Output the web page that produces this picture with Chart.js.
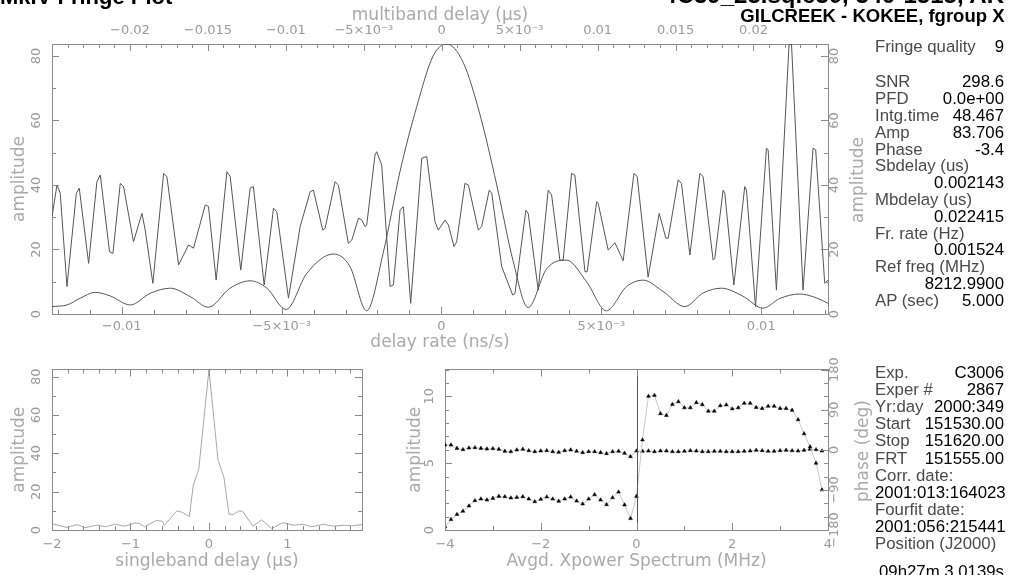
<!DOCTYPE html>
<html><head><meta charset="utf-8">
<script src="https://cdn.jsdelivr.net/npm/chart.js@4.4.1/dist/chart.umd.min.js"></script>
<style>
html,body{margin:0;padding:0;background:#fff;}
#wrap{position:relative;width:1025px;height:575px;overflow:hidden;background:#fff;}
canvas{position:absolute;}
.h{position:absolute;white-space:nowrap;font-family:"Liberation Sans",Arial,sans-serif;font-weight:bold;color:#000;}
.rot{position:absolute;white-space:nowrap;font-family:"DejaVu Sans",sans-serif;font-size:17px;line-height:20px;color:#aaa;transform:translate(-50%,-50%) rotate(-90deg);}
.row{position:absolute;left:875px;width:129px;height:17px;font-family:"Liberation Sans",Arial,sans-serif;font-size:16.8px;line-height:17px;display:flex;justify-content:space-between;white-space:nowrap;}
.row .l{color:#4a4a4a}.row .v{color:#000}
</style></head>
<body><div id="wrap">
<canvas id="c1" width="880" height="355" style="left:0;top:0"></canvas>
<canvas id="c2" width="420" height="220" style="left:0;top:355px"></canvas>
<canvas id="c3" width="500" height="220" style="left:380px;top:355px"></canvas>
<div class="h" style="left:0;top:-13.6px;font-size:22px;line-height:22px">MkIV Fringe Plot</div>
<div class="h" style="right:21px;top:-17.4px;font-size:24px;line-height:24px">4C39_25.sqic30, 349-1515, AK</div>
<div class="h" style="right:20.5px;top:7px;font-size:18.5px;line-height:18.5px">GILCREEK - KOKEE, fgroup X</div>
<div class="rot" style="left:857px;top:180px">amplitude</div>
<div class="rot" style="left:862px;top:451px">phase (deg)</div>
<div id="panel"></div>
</div>
<script>
// ---------------- data ----------------
// multiband delay function (top axis, µs) and amplitude
const mbdDelay = [-0.02500,-0.02468,-0.02447,-0.02404,-0.02344,-0.02325,-0.02265,-0.02212,-0.02190,-0.02131,-0.02109,-0.02062,-0.02041,-0.01977,-0.01923,-0.01902,-0.01853,-0.01784,-0.01763,-0.01688,-0.01624,-0.01592,-0.01517,-0.01496,-0.01447,-0.01378,-0.01357,-0.01289,-0.01229,-0.01208,-0.01139,-0.01079,-0.01058,-0.00983,-0.00908,-0.00844,-0.00823,-0.00763,-0.00748,-0.00684,-0.00663,-0.00599,-0.00577,-0.00534,-0.00513,-0.00492,-0.00481,-0.00428,-0.00417,-0.00385,-0.00331,-0.00310,-0.00267,-0.00246,-0.00199,-0.00128,-0.00096,-0.00043,-0.00022,0.00021,0.00043,0.00079,0.00096,0.00149,0.00171,0.00235,0.00256,0.00305,0.00321,0.00385,0.00455,0.00470,0.00540,0.00555,0.00619,0.00683,0.00705,0.00758,0.00779,0.00833,0.00854,0.00919,0.00933,0.00994,0.01004,0.01068,0.01111,0.01164,0.01233,0.01254,0.01324,0.01395,0.01438,0.01453,0.01517,0.01538,0.01592,0.01656,0.01677,0.01741,0.01752,0.01805,0.01816,0.01874,0.01944,0.01955,0.02013,0.02083,0.02094,0.02147,0.02228,0.02244,0.02318,0.02382,0.02399,0.02457,0.02478];
const mbdAmp = [30.2,40.0,37.4,8.5,37.4,39.0,15.7,41.0,43.1,19.3,18.8,40.5,39.5,22.4,31.2,26.0,9.5,43.6,42.6,15.2,21.4,20.4,33.8,33.3,10.5,44.1,42.6,13.6,39.0,39.5,9.0,32.8,31.7,4.9,27.1,37.9,38.4,26.0,26.6,41.0,40.0,21.9,22.9,29.7,29.1,27.1,27.6,49.3,50.3,46.2,8.5,9.0,32.2,33.3,3.3,48.3,48.8,28.6,26.0,29.1,27.6,20.9,22.4,40.5,40.0,26.0,27.1,38.4,37.4,14.7,5.9,6.4,32.2,31.2,7.4,38.4,36.9,16.7,16.7,43.6,43.1,13.1,13.1,34.8,34.3,19.8,22.1,16.5,43.6,42.6,11.4,31.2,23.5,23.5,41.6,40.5,18.3,43.6,42.6,16.7,17.3,38.4,37.4,9.0,39.5,38.4,2.3,51.4,50.9,7.4,83.4,83.7,7.4,51.4,50.9,9.5,10.5];
// delay rate function (bottom axis, ns/s) and amplitude
const rateVal = [-0.01218,-0.01171,-0.01130,-0.01083,-0.01036,-0.00973,-0.00911,-0.00848,-0.00786,-0.00729,-0.00661,-0.00598,-0.00546,-0.00486,-0.00421,-0.00338,-0.00286,-0.00234,-0.00182,-0.00130,-0.00078,-0.00026,0.00016,0.00068,0.00120,0.00173,0.00224,0.00271,0.00329,0.00391,0.00454,0.00516,0.00579,0.00631,0.00693,0.00761,0.00818,0.00876,0.00943,0.01006,0.01058,0.01120,0.01173,0.01209];
const rateAmp = [2.3,2.8,4.9,6.7,5.6,2.8,6.4,8.0,5.4,2.1,8.0,10.3,8.0,1.4,12.6,18.6,14.7,1.0,19.0,44.0,64.0,80.0,83.7,78.0,62.0,40.0,16.5,2.0,14.0,16.7,10.0,1.0,8.5,10.5,7.0,2.3,6.5,8.0,5.5,1.8,4.8,6.2,5.0,3.3];
// singleband delay (µs)
const sbdDelay = [-2.0,-1.81,-1.68,-1.58,-1.43,-1.31,-1.2,-1.07,-0.94,-0.88,-0.82,-0.67,-0.59,-0.57,-0.41,-0.34,-0.25,-0.2,-0.13,0.0,0.115,0.19,0.255,0.31,0.38,0.43,0.56,0.67,0.8,0.94,1.09,1.2,1.31,1.46,1.58,1.73,1.82,1.95];
const sbdAmp = [3.3,1.3,2.8,1.2,2.5,1.7,3.0,2.0,3.7,3.3,1.7,5.0,4.5,2.3,10.0,9.2,7.0,23.3,31.7,83.7,36.7,27.5,8.3,8.0,10.0,9.7,2.0,5.3,0.8,3.8,2.5,3.0,1.7,3.0,2.0,2.5,2.2,2.8];
// averaged cross-power spectrum (MHz)
const freq = [-4,-3.875,-3.75,-3.625,-3.5,-3.375,-3.25,-3.125,-3,-2.875,-2.75,-2.625,-2.5,-2.375,-2.25,-2.125,-2,-1.875,-1.75,-1.625,-1.5,-1.375,-1.25,-1.125,-1,-0.875,-0.75,-0.625,-0.5,-0.375,-0.25,-0.125,0,0.125,0.25,0.375,0.5,0.625,0.75,0.875,1,1.125,1.25,1.375,1.5,1.625,1.75,1.875,2,2.125,2.25,2.375,2.5,2.625,2.75,2.875,3,3.125,3.25,3.375,3.5,3.625,3.75,3.875];
const xpAmp = [0.25,0.79,1.16,1.41,1.8,2.2,2.32,2.25,2.37,2.52,2.49,2.4,2.44,2.49,2.32,2.12,2.3,2.47,2.32,2.15,2.32,2.47,2.17,1.95,2.32,2.64,2.25,1.9,2.42,2.84,1.88,0.86,2.52,6.74,10.0,10.07,8.7,8.57,9.4,9.6,9.14,9.14,9.53,9.38,8.89,8.89,9.3,9.36,9.06,9.14,9.48,9.48,9.16,9.09,9.26,9.26,9.09,9.09,8.96,8.25,7.2,6.22,5.0,3.0];
const xpPhase = [10.8,10.8,3.3,0.4,4.0,4.8,3.3,1.9,2.6,1.1,-3.3,-4.1,-0.4,1.1,-1.9,-4.1,-2.6,-1.9,-4.1,-5.6,-1.9,-0.4,-3.3,-6.3,-4.1,-4.1,-6.3,-8.5,-4.1,-3.3,-7.8,-15.2,-2.6,-3.3,-2.6,-4.1,-2.6,-2.6,-4.1,-4.1,-3.3,-1.9,-2.6,-4.1,-4.1,-3.3,-3.3,-4.1,-4.1,-4.1,-3.3,-2.6,-1.1,-1.9,-3.3,-3.3,-1.9,-1.1,-1.9,-2.6,-1.1,1.1,0.4,-2.6];
// tick values and labels
const rateTicks = [-0.01,-0.005,0,0.005,0.01];
const rateLabels = ['\u22120.01','\u22125\u00d710\u207b\u00b3','0','5\u00d710\u207b\u00b3','0.01'];
const mbdTicks = [-0.02,-0.015,-0.01,-0.005,0,0.005,0.01,0.015,0.02];
const mbdLabels = ['\u22120.02','\u22120.015','\u22120.01','\u22125\u00d710\u207b\u00b3','0','5\u00d710\u207b\u00b3','0.01','0.015','0.02'];
const ampTicks = [0,20,40,60,80];
const ampLabels = ['0','20','40','60','80'];
const sbdTicks = [-2,-1,0,1];
const sbdLabels = ['\u22122','\u22121','0','1'];
const freqTicks = [-4,-2,0,2,4];
const freqLabels = ['\u22124','\u22122','0','2','4'];
const xpAmpTicks = [0,5,10];
const xpAmpLabels = ['0','5','10'];
const phaseTicks = [-180,-90,0,90,180];
const phaseLabels = ['\u2212180','\u221290','0','90','180'];
// side panel text
const panelTop = [['Fringe quality','9']];
const panelMid = [['SNR','298.6'],['PFD','0.0e+00'],['Intg.time','48.467'],['Amp','83.706'],['Phase','-3.4'],['Sbdelay (us)',''],['','0.002143'],['Mbdelay (us)',''],['','0.022415'],['Fr. rate (Hz)',''],['','0.001524'],['Ref freq (MHz)',''],['','8212.9900'],['AP (sec)','5.000']];
const panelLow = [['Exp.','C3006'],['Exper #','2867'],['Yr:day','2000:349'],['Start','151530.00'],['Stop','151620.00'],['FRT','151555.00'],['Corr. date:',''],['','2001:013:164023'],['Fourfit date:',''],['','2001:056:215441'],['Position (J2000)','']];
const panelPos = [['','09h27m 3.0139s']];

// ---------------- styling ----------------
const AX = 'DejaVu Sans';
const FRAME = '#8a8a8a', TICKC = '#9a9a9a', TITLEC = '#aaaaaa';
const CURVE = '#555555', SBDC = '#a8a8a8', XPLINE = '#c8c8c8';
const TICKSIZE = 13, TITLESIZE = 17;

const mctx = document.createElement('canvas').getContext('2d');
function widest(labels){ mctx.font = TICKSIZE + 'px "' + AX + '"'; return Math.max(...labels.map(t => mctx.measureText(t).width)); }
const pts = (xs, ys) => xs.map((x, i) => ({x: x, y: ys[i]}));
function lab(vals, labels){ return v => { const i = vals.findIndex(t => Math.abs(t - v) < 1e-9); return i >= 0 ? labels[i] : ''; }; }

function hScale(pos, min, max, vals, labels, h, pad, title, tpad){
  return {
    type:'linear', position:pos, min:min, max:max,
    afterBuildTicks: s => { s.ticks = vals.map(v => ({value:v})); },
    afterFit: s => { s.height = h; },
    grid:{display:false, drawTicks:false},
    border:{display:true, color:FRAME, width:1},
    ticks:{display:!!labels, autoSkip:false, minRotation:0, maxRotation:0, padding:pad, color:TICKC,
      font:{family:AX, size:TICKSIZE}, callback: labels ? lab(vals, labels) : () => ''},
    title: title ? {display:true, text:title, color:TITLEC, font:{family:AX, size:TITLESIZE}, padding:tpad} : {display:false}
  };
}
function vScale(pos, min, max, vals, labels, w, gap, title, tpad){
  const half = labels ? widest(labels) / 2 : 0;
  return {
    type:'linear', position:pos, min:min, max:max,
    afterBuildTicks: s => { s.ticks = vals.map(v => ({value:v})); },
    afterFit: s => { s.width = w; },
    grid:{display:false, drawTicks:false},
    border:{display:true, color:FRAME, width:1},
    ticks:{display:!!labels, autoSkip:false, minRotation:90, maxRotation:90, crossAlign:'center',
      padding: gap - half, color:TICKC, font:{family:AX, size:TICKSIZE}, callback: labels ? lab(vals, labels) : () => ''},
    title: title ? {display:true, text:title, color:TITLEC, font:{family:AX, size:TITLESIZE}, padding:tpad} : {display:false}
  };
}

// inward pgplot-style tick marks drawn through the chart scales
const pgTicks = {
  id:'pgticks',
  afterDraw(chart, args, opts){
    const ctx = chart.ctx, a = chart.chartArea;
    ctx.save(); ctx.strokeStyle = FRAME; ctx.lineWidth = 1;
    for (const id in opts.axes){
      const s = chart.scales[id], spec = opts.axes[id];
      const draw = (v, len) => {
        const p = Math.round(s.getPixelForValue(v)) + 0.5;
        ctx.beginPath();
        if (s.position === 'bottom'){ ctx.moveTo(p, a.bottom); ctx.lineTo(p, a.bottom - len); }
        else if (s.position === 'top'){ ctx.moveTo(p, a.top); ctx.lineTo(p, a.top + len); }
        else if (s.position === 'left'){ ctx.moveTo(a.left, p); ctx.lineTo(a.left + len, p); }
        else { ctx.moveTo(a.right, p); ctx.lineTo(a.right - len, p); }
        ctx.stroke();
      };
      const k0 = Math.ceil(s.min / spec.minor - 1e-6), k1 = Math.floor(s.max / spec.minor + 1e-6);
      for (let k = k0; k <= k1; k++) draw(k * spec.minor, 4);
      s.ticks.forEach(t => draw(t.value, 7));
    }
    ctx.restore();
  }
};
const zeroLine = {
  id:'zeroline',
  afterDatasetsDraw(chart){
    const x = Math.round(chart.scales.x.getPixelForValue(0)) + 0.5, a = chart.chartArea, ctx = chart.ctx;
    ctx.save(); ctx.strokeStyle = '#555'; ctx.lineWidth = 1;
    ctx.beginPath(); ctx.moveTo(x, a.top); ctx.lineTo(x, a.bottom); ctx.stroke(); ctx.restore();
  }
};
const baseOpts = {responsive:false, animation:false, devicePixelRatio:1, events:[], layout:{padding:0}};

// ---------------- chart 1: multiband delay / delay rate ----------------
new Chart(document.getElementById('c1'), {
  type:'line',
  data:{datasets:[
    {data:pts(mbdDelay, mbdAmp), xAxisID:'x2', yAxisID:'y', borderColor:CURVE, borderWidth:1, pointRadius:0, tension:0, fill:false},
    {data:pts(rateVal, rateAmp), xAxisID:'x', yAxisID:'y', borderColor:CURVE, borderWidth:1, pointRadius:0, cubicInterpolationMode:'monotone', fill:false}
  ]},
  options:Object.assign({}, baseOpts, {
    scales:{
      x: hScale('bottom', -0.01218, 0.01209, rateTicks, rateLabels, 41, 4.6, 'delay rate (ns/s)', {top:0, bottom:2.2}),
      x2: hScale('top', -0.0250, 0.02478, mbdTicks, mbdLabels, 44, 5.6, 'multiband delay (\u03bcs)', {top:5.4, bottom:0}),
      y: vScale('left', 0, 83.706, ampTicks, ampLabels, 52, 15, 'amplitude', {top:9.8, bottom:0}),
      y2: vScale('right', 0, 83.706, ampTicks, ampLabels, 52, 7, null)
    },
    plugins:{legend:{display:false}, tooltip:{enabled:false},
      pgticks:{axes:{x:{minor:0.001}, x2:{minor:0.001}, y:{minor:10}, y2:{minor:10}}}}
  }),
  plugins:[pgTicks]
});

// ---------------- chart 2: singleband delay ----------------
new Chart(document.getElementById('c2'), {
  type:'line',
  data:{datasets:[
    {data:pts(sbdDelay, sbdAmp), xAxisID:'x', yAxisID:'y', borderColor:SBDC, borderWidth:1, pointRadius:0, tension:0, fill:false}
  ]},
  options:Object.assign({}, baseOpts, {
    scales:{
      x: hScale('bottom', -2, 1.95, sbdTicks, sbdLabels, 45, 6.4, 'singleband delay (\u03bcs)', {top:0, bottom:3.2}),
      x2: hScale('top', -2, 1.95, sbdTicks, null, 13, 0, null),
      y: vScale('left', 0, 83.706, ampTicks, ampLabels, 52, 15, 'amplitude', {top:9.8, bottom:0}),
      y2: vScale('right', 0, 83.706, ampTicks, null, 58, 0, null)
    },
    plugins:{legend:{display:false}, tooltip:{enabled:false},
      pgticks:{axes:{x:{minor:0.2}, x2:{minor:0.2}, y:{minor:10}, y2:{minor:10}}}}
  }),
  plugins:[pgTicks]
});

// ---------------- chart 3: averaged cross-power spectrum ----------------
new Chart(document.getElementById('c3'), {
  type:'line',
  data:{datasets:[
    {data:pts(freq, xpAmp), xAxisID:'x', yAxisID:'y', borderColor:XPLINE, borderWidth:1, tension:0, fill:false,
      pointStyle:'triangle', pointRadius:2.2, pointBackgroundColor:'#000', pointBorderColor:'#000', pointBorderWidth:0.5},
    {data:pts(freq, xpPhase), xAxisID:'x', yAxisID:'y2', borderColor:XPLINE, borderWidth:1, tension:0, fill:false,
      pointStyle:'triangle', pointRadius:2.2, pointBackgroundColor:'#000', pointBorderColor:'#000', pointBorderWidth:0.5}
  ]},
  options:Object.assign({}, baseOpts, {
    scales:{
      x: hScale('bottom', -4, 4, freqTicks, freqLabels, 45, 6.4, 'Avgd. Xpower Spectrum (MHz)', {top:0, bottom:3.2}),
      x2: hScale('top', -4, 4, freqTicks, null, 13, 0, null),
      y: vScale('left', 0, 12, xpAmpTicks, xpAmpLabels, 65, 15, 'amplitude', {top:25.8, bottom:0}),
      y2: vScale('right', -180, 180, phaseTicks, phaseLabels, 52, 7, null)
    },
    plugins:{legend:{display:false}, tooltip:{enabled:false},
      pgticks:{axes:{x:{minor:1}, x2:{minor:1}, y:{minor:1}, y2:{minor:30}}}}
  }),
  plugins:[pgTicks, zeroLine]
});

// ---------------- side panel ----------------
const panel = document.getElementById('panel');
function rows(list, baseline0, step){
  list.forEach((r, i) => {
    const d = document.createElement('div');
    d.className = 'row';
    d.style.top = (baseline0 + i * step - 14.3) + 'px';
    const l = document.createElement('span'); l.className = 'l'; l.textContent = r[0];
    const v = document.createElement('span'); v.className = 'v'; v.textContent = r[1];
    d.appendChild(l); d.appendChild(v); panel.appendChild(d);
  });
}
rows(panelTop, 52.5, 16.8);
rows(panelMid, 87.7, 16.8);
rows(panelLow, 378.3, 17.1);
rows(panelPos, 577, 17.1);
</script>
</body></html>
